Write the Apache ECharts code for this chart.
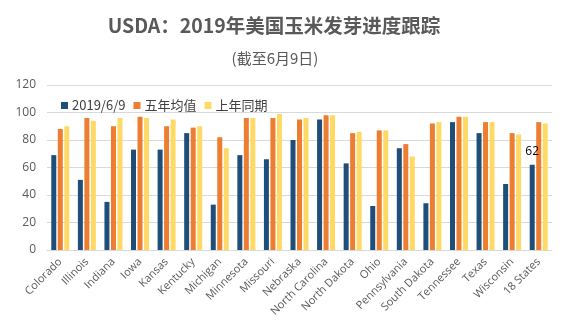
<!DOCTYPE html>
<html>
<head>
<meta charset="utf-8">
<script src="https://cdn.jsdelivr.net/npm/echarts@6/dist/echarts.min.js"></script>
<style>html,body{margin:0;padding:0;background:#fff;}#c{width:572px;height:326px;}</style>
</head>
<body>
<div id="c"></div>
<script>
var categories = ['Colorado','Illinois','Indiana','Iowa','Kansas','Kentucky','Michigan','Minnesota','Missouri','Nebraska','North Carolina','North Dakota','Ohio','Pennsylvania','South Dakota','Tennessee','Texas','Wisconsin','18 States'];
var current2019 = [69,51,35,73,73,85,33,69,66,80,95,63,32,74,34,93,85,48,62];
var fiveYearAvg = [88,96,90,97,90,89,82,96,96,95,98,85,87,77,92,97,93,85,93];
var lastYear = [90,94,96,96,95,90,74,96,99,96,98,86,87,68,93,97,93,84,92];
var seriesNames = ['2019/6/9','五年均值','上年同期'];
var yTicks = {min:0, max:120, interval:20};

var chart = echarts.init(document.getElementById('c'));
var blueData = current2019.map(function(v,i){
  if (i === current2019.length-1) {
    return {value:v, label:{show:true, position:'top', color:'#000', fontSize:12, distance:7, fontFamily:'Open Sans'}};
  }
  return v;
});
chart.setOption({
  animation:false,
  backgroundColor:'#fff',
  title:[{
    text:'USDA：2019年美国玉米发芽进度跟踪',
    left:269, top:11, textAlign:'center',
    textStyle:{fontSize:19.5, fontWeight:'bold', color:'#595959', fontFamily:'Noto Sans CJK SC'}
  },{
    text:'(截至6月9日)',
    left:270, top:46, textAlign:'center',
    textStyle:{fontSize:15, fontWeight:'normal', color:'#595959', fontFamily:'Noto Sans CJK SC'}
  }],
  legend:{
    data:seriesNames, left:56, top:94, itemWidth:7, itemHeight:7, itemGap:8,
    icon:'rect',
    textStyle:{fontSize:13, color:'#404040', fontFamily:'Noto Sans CJK SC', padding:[0,0,0,-1]}
  },
  grid:{left:47, right:20, top:85, bottom:76},
  xAxis:{
    type:'category', data:categories,
    axisLine:{lineStyle:{color:'#d9d9d9'}},
    axisTick:{show:false},
    axisLabel:{interval:0, rotate:45, fontSize:11, color:'#595959', margin:10, fontFamily:'Open Sans'}
  },
  yAxis:{
    type:'value', min:yTicks.min, max:yTicks.max, interval:yTicks.interval,
    axisLine:{show:false}, axisTick:{show:false},
    axisLabel:{fontSize:12, color:'#595959', margin:11, fontFamily:'Open Sans'},
    splitLine:{lineStyle:{color:'#d9d9d9'}}
  },
  series:[
    {name:seriesNames[0], type:'bar', data:blueData, barWidth:5, barGap:'30%', itemStyle:{color:'#1F4E79'}},
    {name:seriesNames[1], type:'bar', data:fiveYearAvg, barWidth:5, barGap:'30%', itemStyle:{color:'#ED7D31'}},
    {name:seriesNames[2], type:'bar', data:lastYear, barWidth:5, barGap:'30%', itemStyle:{color:'#FFD966'}}
  ]
});
</script>
</body>
</html>
